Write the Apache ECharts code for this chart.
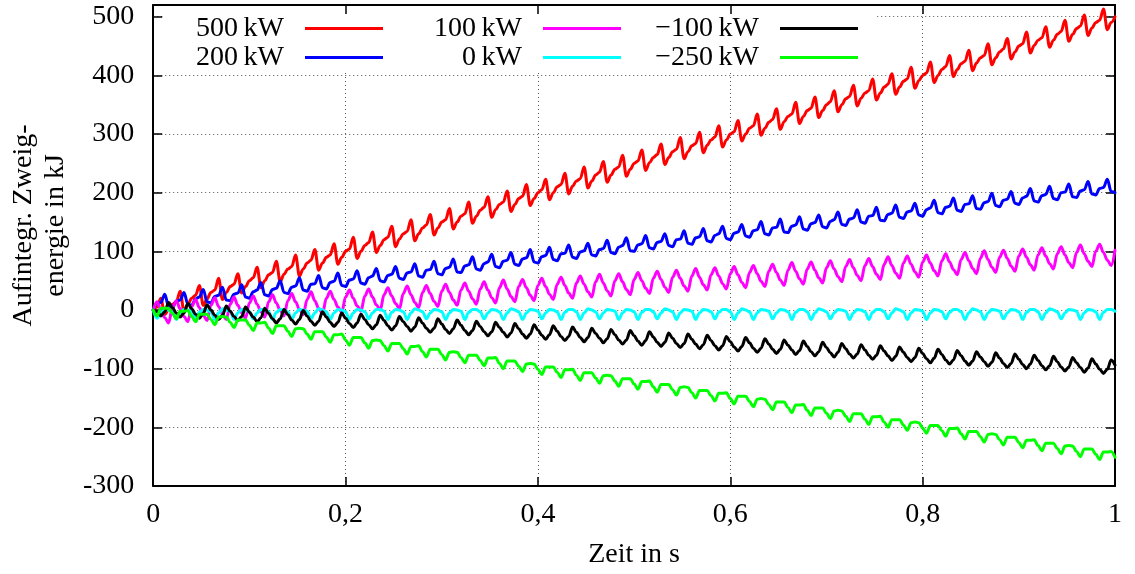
<!DOCTYPE html>
<html><head><meta charset="utf-8">
<script src="https://cdn.jsdelivr.net/npm/echarts@6/dist/echarts.min.js"></script>
<style>html,body{margin:0;padding:0;background:#fff}#c{width:1135px;height:574px}</style>
</head><body><div id="c"></div>
<script>
// sampling step of the data arrays (s)
const DT = 0.004;
const seriesNames = ['500\u2009kW','200\u2009kW','100\u2009kW','0\u2009kW','\u2212100\u2009kW','\u2212250\u2009kW'];
const seriesColors = ['#ff0000','#0000ff','#ff00ff','#00ffff','#000000','#00ff00'];
const xTickLabels = ['0','0,2','0,4','0,6','0,8','1'];

const e500 = [
0,5,20,-8,1, 10,14,32,-2,10, 20,25,42,8,19, 30,34,54,18,30, 40,44,62,29,40, 50,55,73,38,50, 60,64,83,48,61, 70,74,94,58,70, 80,85,103,68,80, 90,94,113,78,90,
100,104,124,88,100, 110,115,133,98,110, 120,124,143,108,121, 130,134,154,118,130, 140,145,163,128,140, 150,154,173,138,150, 160,164,184,148,160, 170,175,193,158,171, 180,184,203,168,180, 190,194,214,178,190,
200,205,223,188,200, 210,214,233,198,211, 220,224,244,208,220, 230,235,253,218,230, 240,244,264,228,240, 250,254,273,238,251, 260,265,283,248,260, 270,274,294,258,270, 280,284,303,268,281, 290,295,314,278,290,
300,304,323,288,300, 310,314,334,298,310, 320,325,343,308,321, 330,334,354,318,330, 340,344,363,328,340, 350,355,374,338,350, 360,364,383,348,361, 370,374,394,358,370, 380,385,403,368,380, 390,394,414,378,391,
400,404,423,388,400, 410,415,434,398,410, 420,424,443,408,421, 430,434,454,418,430, 440,445,463,428,440, 450,454,474,438,451, 460,464,483,448,460, 470,475,494,458,470, 480,484,503,468,481, 490,494,513,478,490,
500];

const e200 = [
0,11,13,27,6, 4,15,17,30,10, 8,19,22,35,14, 12,23,25,39,17, 16,27,29,43,22, 20,31,34,47,26, 24,35,37,50,30, 28,39,41,55,34, 32,44,45,59,38, 36,47,49,63,42,
40,51,53,67,46, 44,55,58,71,50, 48,59,61,74,54, 52,63,65,79,58, 56,68,69,83,62, 60,71,73,87,65, 64,75,77,91,70, 68,79,82,95,74, 72,83,85,98,78, 76,87,89,103,82,
80,91,93,107,86, 84,96,97,111,90, 88,99,101,114,94, 92,103,105,119,98, 96,107,110,123,101, 100,111,113,127,106, 104,115,117,130,110, 108,120,121,135,114, 112,123,125,139,118, 116,127,130,143,122,
120,131,133,146,126, 124,135,137,151,130, 128,140,141,155,133, 132,143,145,159,138, 136,147,149,162,142, 140,151,154,167,146, 144,155,157,171,150, 148,160,161,175,153, 152,163,165,179,158, 156,167,169,182,162,
160,171,174,187,166, 164,175,177,191,170, 168,180,181,195,173, 172,183,185,199,178, 176,187,189,202,182, 180,191,194,207,186, 184,195,197,211,190, 188,200,201,215,193, 192,203,205,219,198, 196,207,209,223,202,
200];

const e100 = [
0,14,0,-13,-22, 4,16,2,-11,-20, 6,18,4,-9,-18, 8,21,6,-7,-16, 10,22,8,-5,-14, 12,24,10,-3,-12, 14,26,12,-1,-10, 16,28,14,1,-8, 18,31,16,3,-6, 20,32,18,5,-4,
22,34,20,7,-2, 24,36,22,9,0, 26,38,24,11,2, 28,41,26,13,4, 30,42,28,15,6, 32,44,30,17,8, 34,46,32,19,10, 36,48,34,21,12, 38,51,36,23,14, 40,52,38,25,16,
42,54,40,27,18, 44,56,42,29,20, 46,58,44,31,22, 48,61,46,33,24, 50,62,48,35,26, 52,64,50,37,28, 54,66,52,39,30, 56,68,54,41,32, 58,71,56,43,34, 60,72,58,45,36,
62,74,60,47,38, 64,76,62,49,40, 66,78,64,51,42, 68,81,66,53,44, 70,82,68,55,46, 72,84,70,57,48, 74,86,72,59,50, 76,88,74,61,52, 78,91,76,63,54, 80,92,78,65,56,
82,94,80,67,58, 84,96,82,69,60, 86,98,84,71,62, 88,101,86,73,64, 90,102,88,75,66, 92,104,90,77,68, 94,106,92,79,70, 96,108,94,81,72, 98,111,96,83,74, 100,112,98,85,76,
102];

const e0 = [
0,-14,-5,1,0, -3,-16,-5,1,0, -3,-15,-4,1,0, -3,-16,-5,2,0, -2,-16,-5,1,0, -3,-15,-5,1,1, -3,-16,-4,1,0, -3,-16,-5,1,0, -2,-15,-5,2,0, -3,-16,-5,1,0,
-3,-16,-5,1,0, -3,-15,-5,1,1, -2,-16,-4,1,0, -3,-16,-5,2,0, -3,-15,-5,1,0, -3,-16,-5,1,0, -2,-16,-4,1,1, -3,-15,-5,1,0, -3,-16,-5,2,0, -3,-16,-5,1,0,
-2,-15,-5,1,0, -3,-16,-4,1,1, -3,-16,-5,2,0, -3,-15,-5,1,0, -2,-16,-5,1,0, -3,-16,-4,1,1, -3,-15,-5,2,0, -3,-16,-5,1,0, -2,-16,-5,1,0, -3,-15,-4,1,1,
-3,-16,-5,2,0, -3,-16,-5,1,0, -2,-15,-5,1,0, -3,-16,-4,1,1, -3,-16,-5,2,0, -3,-15,-5,1,0, -2,-16,-5,1,0, -3,-16,-4,1,1, -3,-15,-5,2,0, -3,-16,-5,1,0,
-2,-16,-5,1,0, -3,-15,-4,1,1, -3,-16,-5,2,0, -3,-16,-5,1,0, -2,-15,-5,1,0, -3,-16,-4,1,1, -3,-16,-5,2,0, -3,-15,-5,1,0, -2,-16,-5,1,0, -3,-16,-4,1,1,
-2];

const eM100 = [
0,-3,-10,-3,13, 4,-5,-12,-5,11, 2,-7,-14,-6,9, 0,-9,-16,-9,7, -2,-11,-18,-11,5, -4,-12,-20,-13,3, -6,-15,-22,-15,1, -8,-17,-24,-16,-1, -10,-19,-26,-19,-3, -12,-21,-28,-21,-5,
-14,-23,-30,-22,-7, -16,-25,-32,-25,-9, -18,-27,-34,-27,-11, -20,-28,-36,-29,-13, -22,-31,-38,-31,-15, -24,-33,-40,-32,-17, -26,-35,-42,-35,-19, -28,-37,-44,-37,-21, -30,-38,-46,-39,-23, -32,-41,-48,-41,-25,
-34,-43,-50,-42,-27, -36,-45,-52,-45,-29, -38,-47,-54,-47,-31, -40,-48,-56,-49,-33, -42,-51,-58,-51,-35, -44,-53,-60,-52,-37, -46,-55,-62,-55,-39, -48,-57,-64,-57,-41, -50,-58,-66,-59,-43, -52,-61,-68,-61,-45,
-54,-63,-70,-62,-47, -56,-65,-72,-65,-49, -58,-67,-74,-67,-51, -60,-68,-76,-69,-53, -62,-71,-78,-71,-55, -64,-73,-80,-72,-57, -66,-75,-82,-75,-59, -68,-77,-84,-77,-61, -70,-78,-86,-79,-63, -72,-81,-88,-81,-65,
-74,-83,-90,-82,-67, -76,-85,-92,-85,-69, -78,-87,-94,-87,-71, -80,-88,-96,-89,-73, -82,-91,-98,-91,-75, -84,-93,-100,-92,-77, -86,-95,-102,-95,-79, -88,-97,-104,-97,-81, -90,-98,-106,-99,-83, -92,-101,-108,-101,-85,
-94];

const eM250 = [
0,-10,3,3,3, -6,-15,-2,-2,-1, -11,-20,-7,-7,-7, -16,-25,-12,-11,-12, -21,-30,-17,-17,-17, -26,-35,-22,-22,-21, -31,-40,-27,-27,-27, -36,-45,-32,-31,-32, -41,-50,-37,-37,-37, -46,-55,-42,-42,-41,
-51,-60,-47,-47,-47, -56,-65,-52,-51,-52, -61,-70,-57,-57,-57, -66,-75,-62,-62,-61, -71,-80,-67,-67,-67, -76,-85,-72,-71,-72, -81,-90,-77,-77,-77, -86,-95,-82,-82,-81, -91,-100,-87,-87,-87, -96,-105,-92,-91,-92,
-101,-110,-97,-97,-97, -106,-115,-102,-102,-101, -111,-120,-107,-107,-107, -116,-125,-112,-111,-112, -121,-130,-117,-117,-117, -126,-135,-122,-122,-121, -131,-140,-127,-127,-127, -136,-145,-132,-131,-132, -141,-150,-137,-137,-137, -146,-155,-142,-142,-141,
-151,-160,-147,-147,-147, -156,-165,-152,-151,-152, -161,-170,-157,-157,-157, -166,-175,-162,-162,-161, -171,-180,-167,-167,-167, -176,-185,-172,-171,-172, -181,-190,-177,-177,-177, -186,-195,-182,-182,-181, -191,-200,-187,-187,-187, -196,-205,-192,-191,-192,
-201,-210,-197,-197,-197, -206,-215,-202,-202,-201, -211,-220,-207,-207,-207, -216,-225,-212,-211,-212, -221,-230,-217,-217,-217, -226,-235,-222,-222,-221, -231,-240,-227,-227,-227, -236,-245,-232,-231,-232, -241,-250,-237,-237,-237, -246,-255,-242,-242,-241,
-251];

const seriesValues = [e500, e200, e100, e0, eM100, eM250];

const FONT = "'Liberation Serif','DejaVu Serif',serif";
const FS = 28;
const legendRight = [752, 514, 277];
const legendTop = [14, 43];

const chart = echarts.init(document.getElementById('c'), null, {renderer: 'canvas'});
const axisLineStyle = {color: '#000', width: 2};
const tickStyle = {show: true, inside: true, length: 9, lineStyle: {color: '#000', width: 1.5}};
const gridLineStyle = {color: '#555', type: [1, 3], width: 1};

const option = {
  animation: false,
  backgroundColor: '#fff',
  grid: {left: 147, right: 20, top: 5, bottom: 88},
  xAxis: [
    {type: 'value', min: 0, max: 1, interval: 0.2, position: 'bottom', z: 0,
     axisLine: {show: true, onZero: false, lineStyle: axisLineStyle},
     axisTick: tickStyle,
     axisLabel: {margin: 15, fontFamily: FONT, fontSize: FS, color: '#000',
                 formatter: v => xTickLabels[Math.round(v / 0.2)]},
     splitLine: {show: true, lineStyle: gridLineStyle},
     name: 'Zeit in s', nameLocation: 'middle', nameGap: 55,
     nameTextStyle: {fontFamily: FONT, fontSize: FS, color: '#000'}},
    {type: 'value', min: 0, max: 1, interval: 0.2, position: 'top', z: 3,
     axisLine: {show: true, onZero: false, lineStyle: axisLineStyle},
     axisTick: tickStyle, axisLabel: {show: false}, splitLine: {show: false}}
  ],
  yAxis: [
    {type: 'value', min: -300, max: 520, interval: 100, position: 'left', z: 0,
     axisLine: {show: true, onZero: false, lineStyle: axisLineStyle},
     axisTick: tickStyle,
     axisLabel: {margin: 19, fontFamily: FONT, fontSize: FS, color: '#000', showMaxLabel: false},
     splitLine: {show: true, lineStyle: gridLineStyle},
     name: 'Aufintegr. Zweig-\nenergie in kJ', nameLocation: 'middle', nameRotate: 90, nameGap: 80,
     nameTextStyle: {fontFamily: FONT, fontSize: FS, color: '#000', lineHeight: 32, padding: [0, 0, 0, 40]}},
    {type: 'value', min: -300, max: 520, interval: 100, position: 'right', z: 3,
     axisLine: {show: true, onZero: false, lineStyle: axisLineStyle},
     axisTick: tickStyle, axisLabel: {show: false}, splitLine: {show: false}}
  ],
  graphic: [{type: 'rect', z: 1, silent: true,
             shape: {x: 165, y: 7, width: 712, height: 64}, style: {fill: '#fff'}}],
  legend: seriesNames.map((n, i) => ({
    data: [n], orient: 'horizontal', align: 'right', selectedMode: false,
    right: legendRight[Math.floor(i / 2)], top: legendTop[i % 2], padding: 0,
    icon: 'rect', itemWidth: 78, itemHeight: 3, z: 4,
    textStyle: {fontFamily: FONT, fontSize: FS, color: '#000', lineHeight: 29, padding: [0, 16, 0, 0]}
  })),
  series: seriesNames.map((n, s) => ({
    name: n, type: 'line', xAxisIndex: 0, yAxisIndex: 0,
    showSymbol: false, symbol: 'none', smooth: 0.35, smoothMonotone: 'x',
    color: seriesColors[s],
    lineStyle: {color: seriesColors[s], width: 3, cap: 'round', join: 'round'},
    data: seriesValues[s].map((v, i) => [+(i * DT).toFixed(3), v])
  }))
};
chart.setOption(option);
</script></body></html>
